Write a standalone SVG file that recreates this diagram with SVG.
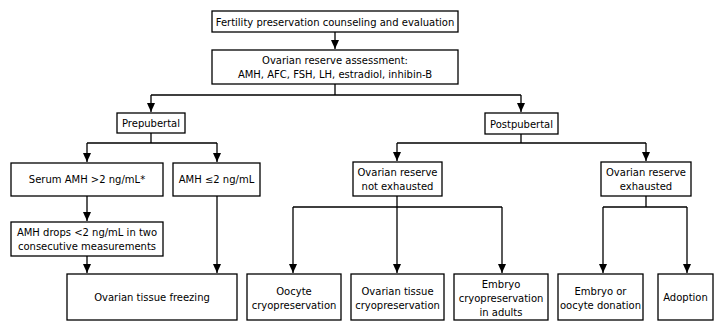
<svg xmlns="http://www.w3.org/2000/svg" width="724" height="332" viewBox="0 0 724 332">
  <defs>
    <marker id="arrow" markerWidth="9" markerHeight="8" refX="9" refY="4" orient="auto" markerUnits="userSpaceOnUse" viewBox="0 0 9 8">
      <path d="M0,0 L9,4 L0,8 Z" fill="#000"/>
    </marker>
    <style>
      .box { fill: #fff; stroke: #000; stroke-width: 1.3; }
      .lbl { font-family: "DejaVu Sans", Verdana, sans-serif; font-size: 10px; fill: #000; text-anchor: middle; }
      .wire { fill: none; stroke: #000; stroke-width: 1.3; }
      .arr { marker-end: url(#arrow); }
    </style>
  </defs>
  <rect width="724" height="332" fill="#fff"/>

  <!-- connectors -->
  <g id="connectors">
    <path class="wire arr" d="M335,32 V49"/>
    <path class="wire" d="M335,84 V95 M151,95 H521"/>
    <path class="wire arr" d="M151,95 V112"/>
    <path class="wire arr" d="M521,95 V112"/>
    <path class="wire" d="M151,133 V143 M87,143 H217"/>
    <path class="wire arr" d="M87,143 V162"/>
    <path class="wire arr" d="M217,143 V162"/>
    <path class="wire arr" d="M87,196 V221"/>
    <path class="wire arr" d="M87,256 V273"/>
    <path class="wire arr" d="M217,196 V273"/>
    <path class="wire" d="M521,134 V143 M397,143 H646"/>
    <path class="wire arr" d="M397,143 V161"/>
    <path class="wire arr" d="M646,143 V161"/>
    <path class="wire" d="M397,196 V207 M293,207 H502"/>
    <path class="wire arr" d="M293,207 V273"/>
    <path class="wire arr" d="M397,207 V273"/>
    <path class="wire arr" d="M502,207 V273"/>
    <path class="wire" d="M646,196 V207 M603,207 H687"/>
    <path class="wire arr" d="M603,207 V273"/>
    <path class="wire arr" d="M687,207 V273"/>
  </g>

  <!-- nodes -->
  <g id="counseling">
    <rect class="box" x="212" y="11" width="246" height="21"/>
    <text class="lbl" x="335" y="25.5">Fertility preservation counseling and evaluation</text>
  </g>
  <g id="reserve-assessment">
    <rect class="box" x="212" y="50" width="246" height="34"/>
    <text class="lbl" x="335" y="63.5">Ovarian reserve assessment:</text>
    <text class="lbl" x="335" y="77.5">AMH, AFC, FSH, LH, estradiol, inhibin-B</text>
  </g>
  <g id="prepubertal">
    <rect class="box" x="117" y="113" width="68" height="20"/>
    <text class="lbl" x="151" y="127">Prepubertal</text>
  </g>
  <g id="postpubertal">
    <rect class="box" x="485" y="113" width="73" height="21"/>
    <text class="lbl" x="521.5" y="127.5">Postpubertal</text>
  </g>
  <g id="amh-high">
    <rect class="box" x="11" y="163" width="152" height="33"/>
    <text class="lbl" x="87" y="183">Serum AMH &gt;2 ng/mL*</text>
  </g>
  <g id="amh-low">
    <rect class="box" x="173" y="163" width="87" height="33"/>
    <text class="lbl" x="216.5" y="183">AMH ≤2 ng/mL</text>
  </g>
  <g id="amh-drops">
    <rect class="box" x="11" y="222" width="152" height="34"/>
    <text class="lbl" x="87" y="235.5">AMH drops &lt;2 ng/mL in two</text>
    <text class="lbl" x="87" y="249.5">consecutive measurements</text>
  </g>
  <g id="tissue-freezing">
    <rect class="box" x="67" y="274" width="170" height="46"/>
    <text class="lbl" x="152" y="301">Ovarian tissue freezing</text>
  </g>
  <g id="not-exhausted">
    <rect class="box" x="353" y="162" width="89" height="34"/>
    <text class="lbl" x="397.5" y="175.5">Ovarian reserve</text>
    <text class="lbl" x="397.5" y="189.5">not exhausted</text>
  </g>
  <g id="exhausted">
    <rect class="box" x="601" y="162" width="90" height="34"/>
    <text class="lbl" x="646" y="175.5">Ovarian reserve</text>
    <text class="lbl" x="646" y="189.5">exhausted</text>
  </g>
  <g id="oocyte-cryo">
    <rect class="box" x="247" y="274" width="94" height="46"/>
    <text class="lbl" x="294" y="294.5">Oocyte</text>
    <text class="lbl" x="294" y="308.5">cryopreservation</text>
  </g>
  <g id="tissue-cryo">
    <rect class="box" x="351" y="274" width="93" height="46"/>
    <text class="lbl" x="397.5" y="294.5">Ovarian tissue</text>
    <text class="lbl" x="397.5" y="308.5">cryopreservation</text>
  </g>
  <g id="embryo-cryo">
    <rect class="box" x="454" y="274" width="94" height="46"/>
    <text class="lbl" x="501" y="287.5">Embryo</text>
    <text class="lbl" x="501" y="301.5">cryopreservation</text>
    <text class="lbl" x="501" y="315.5">in adults</text>
  </g>
  <g id="donation">
    <rect class="box" x="558" y="274" width="85" height="46"/>
    <text class="lbl" x="600.5" y="294.5">Embryo or</text>
    <text class="lbl" x="600.5" y="308.5">oocyte donation</text>
  </g>
  <g id="adoption">
    <rect class="box" x="658" y="274" width="55" height="46"/>
    <text class="lbl" x="685.5" y="301">Adoption</text>
  </g>
</svg>
